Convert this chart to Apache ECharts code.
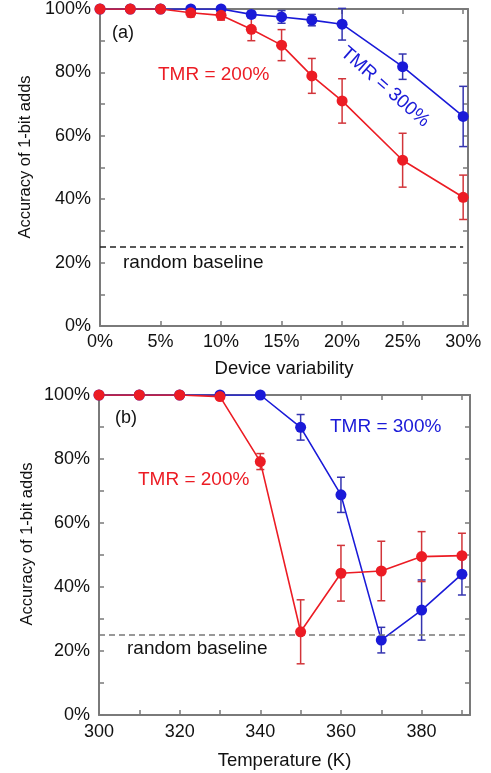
<!DOCTYPE html>
<html>
<head>
<meta charset="utf-8">
<script src="https://cdn.jsdelivr.net/npm/echarts@6.0.0/dist/echarts.min.js"></script>
<style>
  html, body { margin: 0; padding: 0; background: #fff; }
  #chart { width: 491px; height: 773px; }
</style>
</head>
<body>
<div id="chart"></div>
<script>
// (a) accuracy vs device variability (%)
const varX = [0, 2.5, 5, 7.5, 10, 12.5, 15, 17.5, 20, 25, 30]
const varRed = [100, 100, 100, 98.8, 98, 93.6, 88.6, 78.9, 71, 52.3, 40.6]
const varRedErr = [0, 0, 0, 1.3, 1.5, 3.6, 4.9, 5.5, 7, 8.5, 7]
const varBlue = [100, 100, 100, 100, 100, 98.3, 97.5, 96.5, 95.2, 81.8, 66.1]
const varBlueErr = [0, 0, 0, 0, 0, 1, 2, 1.8, 5, 4, 9.5]

// (b) accuracy vs temperature (K)
const tempX = [300, 310, 320, 330, 340, 350, 360, 370, 380, 390]
const tempRed = [100, 100, 100, 99.5, 79.2, 26, 44.3, 45, 49.5, 49.8]
const tempRedErr = [0, 0, 0, 0.8, 2.5, 10, 8.7, 9.3, 7.8, 7]
const tempBlue = [100, 100, 100, 100, 100, 89.9, 68.8, 23.4, 32.8, 44]
const tempBlueErr = [0, 0, 0, 0, 0, 4, 5.5, 4, 9.4, 6.5]

const baseline = 25

const RED = '#ec1c24'
const BLUE = '#1a1ad8'
const RED_ERR = '#d2353a'
const BLUE_ERR = '#3434b0'
const FRAME = '#7a7a7a'
const FONT = 'Liberation Sans, Arial, sans-serif'

const chart = echarts.init(document.getElementById('chart'))

function pairs (xs, ys) {
  return xs.map((x, i) => [x, ys[i]])
}
function errData (xs, ys, es) {
  return xs.map((x, i) => [x, ys[i] - es[i], ys[i] + es[i]])
}

function errSeries (xs, ys, es, color, idx) {
  return {
    type: 'custom',
    xAxisIndex: idx,
    yAxisIndex: idx,
    z: 3,
    silent: true,
    data: errData(xs, ys, es),
    renderItem: function (params, api) {
      const lo = api.coord([api.value(0), api.value(1)])
      const hi = api.coord([api.value(0), api.value(2)])
      const w = 4
      const st = { stroke: color, lineWidth: 1.5 }
      return {
        type: 'group',
        children: [
          { type: 'line', shape: { x1: lo[0], y1: lo[1], x2: hi[0], y2: hi[1] }, style: st },
          { type: 'line', shape: { x1: lo[0] - w, y1: lo[1], x2: lo[0] + w, y2: lo[1] }, style: st },
          { type: 'line', shape: { x1: hi[0] - w, y1: hi[1], x2: hi[0] + w, y2: hi[1] }, style: st }
        ]
      }
    }
  }
}

function lineSeries (xs, ys, color, idx, z) {
  return {
    type: 'line',
    xAxisIndex: idx,
    yAxisIndex: idx,
    z: z,
    data: pairs(xs, ys),
    symbol: 'circle',
    symbolSize: 11,
    lineStyle: { color: color, width: 1.6 },
    itemStyle: { color: color },
    silent: true
  }
}

function baselineSeries (idx, x0, x1, color) {
  return {
    type: 'line',
    xAxisIndex: idx,
    yAxisIndex: idx,
    data: [],
    markLine: {
      silent: true,
      symbol: 'none',
      label: { show: false },
      lineStyle: { color: color, type: [6, 4], width: 1.5 },
      data: [[{ coord: [x0, baseline] }, { coord: [x1, baseline] }]]
    }
  }
}

const tickStyle = { show: true, inside: true, length: 5, lineStyle: { color: FRAME, width: 1.5 } }
const lineStyle = { show: true, onZero: false, lineStyle: { color: FRAME, width: 2 } }

function yAxes (grid) {
  const label = {
    fontFamily: FONT,
    fontSize: 18,
    color: '#111',
    margin: 9,
    formatter: v => (v % 20 === 0 ? v + '%' : '')
  }
  return [
    { type: 'value', gridIndex: grid, min: 0, max: 100, interval: 10, position: 'left', axisLine: lineStyle, axisTick: tickStyle, axisLabel: label, splitLine: { show: false } },
    { type: 'value', gridIndex: grid, min: 0, max: 100, interval: 10, position: 'right', axisLine: lineStyle, axisTick: tickStyle, axisLabel: { show: false }, splitLine: { show: false } }
  ]
}

const option = {
  animation: false,
  grid: [
    { left: 100, top: 8, width: 368, height: 318 },
    { left: 99, top: 395, width: 371, height: 320 }
  ],
  xAxis: [
    {
      type: 'value', gridIndex: 0, min: 0, max: 30.4, interval: 5, position: 'bottom',
      axisLine: lineStyle, axisTick: tickStyle, splitLine: { show: false },
      axisLabel: { fontFamily: FONT, fontSize: 18, color: '#111', margin: 7, formatter: v => (v % 5 === 0 ? v + '%' : '') },
      name: 'Device variability', nameLocation: 'middle', nameGap: 33,
      nameTextStyle: { fontFamily: FONT, fontSize: 18.5, color: '#111' }
    },
    {
      type: 'value', gridIndex: 0, min: 0, max: 30.4, interval: 5, position: 'top',
      axisLine: lineStyle, axisTick: tickStyle, axisLabel: { show: false }, splitLine: { show: false }
    },
    {
      type: 'value', gridIndex: 1, min: 300, max: 392, interval: 10, position: 'bottom',
      axisLine: lineStyle, axisTick: tickStyle, splitLine: { show: false },
      axisLabel: { fontFamily: FONT, fontSize: 18, color: '#111', margin: 8, formatter: v => (v % 20 === 0 ? String(v) : '') },
      name: 'Temperature (K)', nameLocation: 'middle', nameGap: 36,
      nameTextStyle: { fontFamily: FONT, fontSize: 18.5, color: '#111' }
    },
    {
      type: 'value', gridIndex: 1, min: 300, max: 392, interval: 10, position: 'top',
      axisLine: lineStyle, axisTick: tickStyle, axisLabel: { show: false }, splitLine: { show: false }
    }
  ],
  yAxis: [...yAxes(0), ...yAxes(1)],
  series: [
    // panel (a)
    baselineSeries(0, 0, 30, '#222'),
    errSeries(varX, varBlue, varBlueErr, BLUE_ERR, 0),
    lineSeries(varX, varBlue, BLUE, 0, 4),
    errSeries(varX, varRed, varRedErr, RED_ERR, 0),
    lineSeries(varX, varRed, RED, 0, 5),
    // panel (b)
    baselineSeries(2, 300, 392, '#777'),
    errSeries(tempX, tempBlue, tempBlueErr, BLUE_ERR, 2),
    lineSeries(tempX, tempBlue, BLUE, 2, 4),
    errSeries(tempX, tempRed, tempRedErr, RED_ERR, 2),
    lineSeries(tempX, tempRed, RED, 2, 5)
  ],
  graphic: [
    { type: 'text', x: 25, y: 157, rotation: Math.PI / 2, style: { text: 'Accuracy of 1-bit adds', font: '16.5px ' + FONT, fill: '#111', align: 'center', verticalAlign: 'middle' } },
    { type: 'text', x: 27, y: 544, rotation: Math.PI / 2, style: { text: 'Accuracy of 1-bit adds', font: '16.5px ' + FONT, fill: '#111', align: 'center', verticalAlign: 'middle' } },
    { type: 'text', x: 112, y: 33, style: { text: '(a)', font: '18px ' + FONT, fill: '#111', align: 'left', verticalAlign: 'middle' } },
    { type: 'text', x: 158, y: 75, style: { text: 'TMR = 200%', font: '19px ' + FONT, fill: RED, align: 'left', verticalAlign: 'middle' } },
    { type: 'text', x: 385, y: 87, rotation: -0.72, style: { text: 'TMR = 300%', font: '19px ' + FONT, fill: BLUE, align: 'center', verticalAlign: 'middle' } },
    { type: 'text', x: 123, y: 263, style: { text: 'random baseline', font: '19px ' + FONT, fill: '#111', align: 'left', verticalAlign: 'middle' } },
    { type: 'text', x: 115, y: 418, style: { text: '(b)', font: '18px ' + FONT, fill: '#111', align: 'left', verticalAlign: 'middle' } },
    { type: 'text', x: 330, y: 427, style: { text: 'TMR = 300%', font: '19px ' + FONT, fill: BLUE, align: 'left', verticalAlign: 'middle' } },
    { type: 'text', x: 138, y: 480, style: { text: 'TMR = 200%', font: '19px ' + FONT, fill: RED, align: 'left', verticalAlign: 'middle' } },
    { type: 'text', x: 127, y: 649, style: { text: 'random baseline', font: '19px ' + FONT, fill: '#111', align: 'left', verticalAlign: 'middle' } }
  ]
}

chart.setOption(option)
</script>
</body>
</html>
